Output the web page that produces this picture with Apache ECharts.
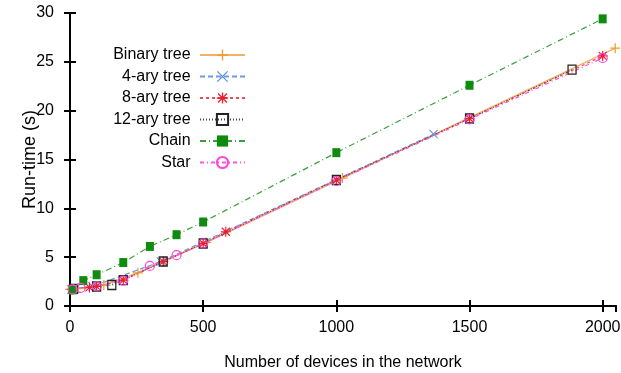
<!DOCTYPE html>
<html>
<head>
<meta charset="utf-8">
<script src="https://cdn.jsdelivr.net/npm/echarts@6/dist/echarts.min.js"></script>
<style>
  html, body { margin: 0; padding: 0; background: #fff; }
  #chart { width: 621px; height: 373px; }
</style>
</head>
<body>
<div id="chart"></div>
<script>
// data (x = number of devices, y = run-time in s)
var binaryX = [1, 7, 31, 127, 255, 511, 1023, 2047];
var binaryY = [1.7, 1.7, 1.8, 2.15, 3.4, 6.5, 13.1, 26.4];

var fourX = [5, 21, 85, 341, 1365];
var fourY = [1.7, 1.8, 2.0, 4.55, 17.6];

var eightX = [9, 73, 100, 200, 350, 500, 585, 1000, 1500, 2000];
var eightY = [1.7, 1.9, 2.0, 2.65, 4.55, 6.4, 7.6, 12.9, 19.2, 25.6];

var twelveX = [13, 100, 157, 200, 350, 500, 1000, 1500, 1885];
var twelveY = [1.75, 2.0, 2.15, 2.65, 4.55, 6.4, 12.9, 19.2, 24.2];

var chainX = [10, 50, 100, 200, 300, 400, 500, 1000, 1500, 2000];
var chainY = [1.65, 2.6, 3.2, 4.45, 6.1, 7.3, 8.6, 15.7, 22.6, 29.4];

var starX = [10, 40, 100, 200, 300, 400, 500, 1000, 1500, 2000];
var starY = [1.7, 1.85, 2.0, 2.6, 4.1, 5.2, 6.4, 12.8, 19.1, 25.4];

var names = ["Binary tree", "4-ary tree", "8-ary tree", "12-ary tree", "Chain", "Star"];

function zip(xs, ys) {
  return xs.map(function (x, i) { return [x, ys[i]]; });
}

// gnuplot-like point shapes
var plusPath = "path://M4.4,0H5.6V10H4.4Z M0,4.4H10V5.6H0Z";
var crossPath = "path://M0,0.8L0.8,0L10,9.2L9.2,10Z M9.2,0L10,0.8L0.8,10L0,9.2Z";
var starPath = "path://M4.4,0H5.6V10H4.4Z M0,4.4H10V5.6H0Z M0.6,1.4L1.4,0.6L9.4,8.6L8.6,9.4Z M8.6,0.6L9.4,1.4L1.4,9.4L0.6,8.6Z";

var font = "'Liberation Sans', Arial, sans-serif";

var option = {
  animation: false,
  backgroundColor: "#fff",
  textStyle: { fontFamily: font },
  grid: { left: 70, right: 5, top: 13, bottom: 67, outerBoundsMode: "none" },
  legend: {
    orient: "vertical",
    align: "right",
    right: 375,
    top: 47,
    padding: 0,
    itemWidth: 45,
    itemHeight: 14,
    itemGap: 5.5,
    data: names,
    formatter: function (n) { return n + " "; },
    textStyle: { fontSize: 16, color: "#000", fontFamily: font }
  },
  xAxis: [{
    type: "value",
    min: 0,
    max: 2050,
    interval: 500,
    name: "Number of devices in the network",
    nameLocation: "middle",
    nameGap: 49,
    nameMoveOverlap: false,
    nameTextStyle: { fontSize: 16, color: "#000" },
    axisLine: { lineStyle: { color: "#000", width: 2 } },
    axisTick: { inside: true, length: 6, lineStyle: { color: "#000", width: 2 } },
    axisLabel: {
      fontSize: 16, color: "#000", margin: 14, showMaxLabel: false,
      formatter: function (v) { return String(v); }
    },
    splitLine: { show: false }
  }, {
    type: "value",
    position: "top",
    min: 0,
    max: 2050,
    interval: 500,
    axisLine: { lineStyle: { color: "#000", width: 2 } },
    axisTick: { inside: true, length: 6, lineStyle: { color: "#000", width: 2 } },
    axisLabel: { show: false },
    splitLine: { show: false }
  }],
  yAxis: [{
    type: "value",
    min: 0,
    max: 30,
    interval: 5,
    name: "Run-time (s)",
    nameLocation: "middle",
    nameGap: 31,
    nameMoveOverlap: false,
    nameTextStyle: { fontSize: 18, color: "#000" },
    axisLine: { show: true, lineStyle: { color: "#000", width: 2 } },
    axisTick: { show: true, inside: true, length: 6, lineStyle: { color: "#000", width: 2 } },
    axisLabel: { fontSize: 16, color: "#000", margin: 16 },
    splitLine: { show: false }
  }, {
    type: "value",
    position: "right",
    min: 0,
    max: 30,
    interval: 5,
    axisLine: { show: true, lineStyle: { color: "#000", width: 2 } },
    axisTick: { show: true, inside: true, length: 6, lineStyle: { color: "#000", width: 2 } },
    axisLabel: { show: false },
    splitLine: { show: false }
  }],
  series: [{
    name: names[0],
    type: "line",
    data: zip(binaryX, binaryY),
    symbol: plusPath,
    symbolSize: 10,
    showAllSymbol: true,
    lineStyle: { color: "#f7b06a", width: 1.5, type: "solid" },
    itemStyle: { color: "#f09a30", borderWidth: 0 }
  }, {
    name: names[1],
    type: "line",
    data: zip(fourX, fourY),
    symbol: crossPath,
    symbolSize: 9,
    showAllSymbol: true,
    lineStyle: { color: "#6a9de0", width: 1.2, type: [5, 3] },
    itemStyle: { color: "#5a8fdc", borderWidth: 0 }
  }, {
    name: names[2],
    type: "line",
    data: zip(eightX, eightY),
    symbol: starPath,
    symbolSize: 10,
    showAllSymbol: true,
    lineStyle: { color: "#ee4a55", width: 1.2, type: [3, 3] },
    itemStyle: { color: "#e8202e", borderWidth: 0 }
  }, {
    name: names[3],
    type: "line",
    data: zip(twelveX, twelveY),
    symbol: "rect",
    symbolSize: [8, 9],
    showAllSymbol: true,
    lineStyle: { color: "#444", width: 1.2, type: [1, 2] },
    itemStyle: { color: "rgba(0,0,0,0)", borderColor: "#222", borderWidth: 1.3 }
  }, {
    name: names[4],
    type: "line",
    data: zip(chainX, chainY),
    symbol: "rect",
    symbolSize: [8, 9],
    showAllSymbol: true,
    lineStyle: { color: "#3aa03a", width: 1.2, type: [6, 3, 1, 3] },
    itemStyle: { color: "#0f8c0f", borderWidth: 0 }
  }, {
    name: names[5],
    type: "line",
    data: zip(starX, starY),
    symbol: "circle",
    symbolSize: 9,
    showAllSymbol: true,
    lineStyle: { color: "#ff55dd", width: 1.2, type: [4, 3, 1, 3] },
    itemStyle: { color: "rgba(0,0,0,0)", borderColor: "#ff44dd", borderWidth: 1.2 }
  }]
};

var chart = echarts.init(document.getElementById("chart"), null, { renderer: "canvas" });
chart.setOption(option);
</script>
</body>
</html>
